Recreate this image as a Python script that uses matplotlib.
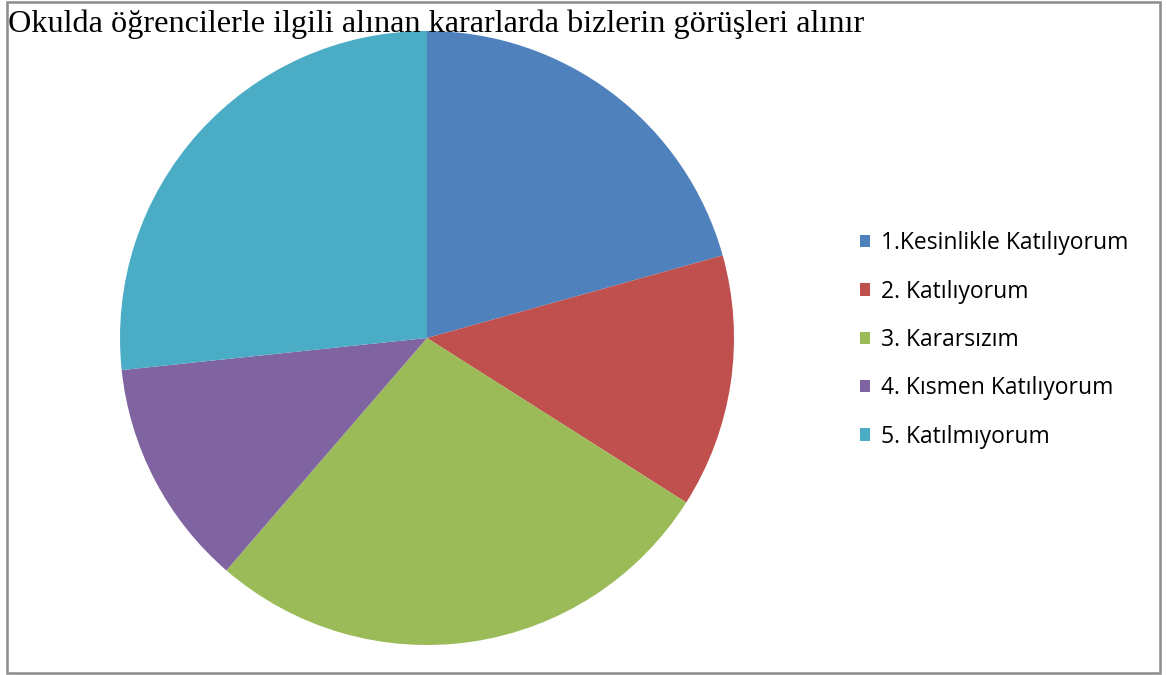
import matplotlib
matplotlib.use("Agg")
import matplotlib.pyplot as plt
from matplotlib.patches import Rectangle

title = "Okulda öğrencilerle ilgili alınan kararlarda bizlerin görüşleri alınır"
categories = ["1.Kesinlikle Katılıyorum", "2. Katılıyorum", "3. Kararsızım",
              "4. Kısmen Katılıyorum", "5. Katılmıyorum"]
values = [31, 20, 41, 18, 40]
colors = ["#4F81BD", "#C0504D", "#9BBB59", "#8064A2", "#4BACC6"]

W, H = 1167, 675
fig = plt.figure(figsize=(W / 100, H / 100), dpi=100)

# outer frame
fig.patches.append(Rectangle((7 / W, 2 / H), (1160 - 7) / W, (673 - 2) / H,
                             transform=fig.transFigure, fill=False,
                             edgecolor="#8c8c8c", linewidth=1.8))

cx, cy, r = 427, 338, 307
ax = fig.add_axes([(cx - r) / W, (H - cy - r) / H, 2 * r / W, 2 * r / H])
wedges, _ = ax.pie(values, colors=colors, startangle=90, counterclock=False,
                   radius=1.0, wedgeprops=dict(linewidth=0))
ax.set_xlim(-1, 1)
ax.set_ylim(-1, 1)
ax.set_aspect("equal")
ax.axis("off")

fig.text(8 / W, 1 - 32 / H, title, family="Liberation Serif", fontsize=23.2,
         va="baseline", ha="left")

leg = fig.legend(wedges, categories, loc="center left",
                 bbox_to_anchor=(860 / W, 1 - 340 / H), frameon=False,
                 prop=dict(family="Open Sans", size=16.5),
                 handlelength=0.45, handleheight=0.45, handletextpad=0.45,
                 labelspacing=1.06, borderpad=0, borderaxespad=0)

fig.savefig("out.png", dpi=100)
